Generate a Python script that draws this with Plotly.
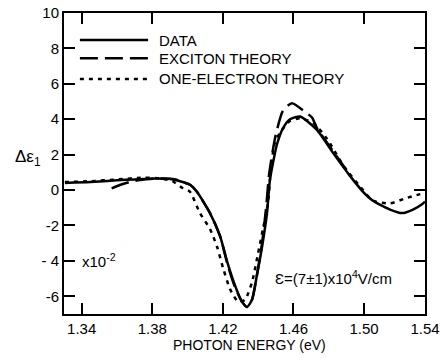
import plotly.graph_objects as go

# Data (photon energy in eV, delta epsilon_1 x10^-2)
data_E = [1.3305, 1.345, 1.36, 1.37, 1.382, 1.392, 1.3957, 1.4014, 1.4053, 1.4127,
          1.4184, 1.4229, 1.4269, 1.4308, 1.4337, 1.4365, 1.4393, 1.4422, 1.4450,
          1.4467, 1.4507, 1.4541, 1.458, 1.4637, 1.4733, 1.4824, 1.492, 1.4994,
          1.505, 1.5147, 1.5215, 1.5277, 1.5328, 1.5345]
data_y = [0.4, 0.45, 0.55, 0.6, 0.65, 0.6, 0.5, 0.3, -0.1, -1.3,
          -2.6, -4.2, -5.4, -6.3, -6.6, -6.2, -4.8, -3.2, -1.3,
          0.6, 2.6, 3.5, 4.0, 4.15, 3.4, 2.1, 0.8, -0.1,
          -0.6, -1.1, -1.3, -1.1, -0.8, -0.65]

exc_E = [1.357, 1.362, 1.367, 1.375, 1.385, 1.393, 1.3974, 1.4014, 1.4053, 1.4127,
         1.4184, 1.4229, 1.4269, 1.4308, 1.4337, 1.4365, 1.4393, 1.4422, 1.4445,
         1.4462, 1.4497, 1.4541, 1.4592, 1.4654, 1.4705, 1.4733, 1.4824, 1.492]
exc_y = [0.1, 0.3, 0.45, 0.6, 0.65, 0.6, 0.45, 0.3, -0.1, -1.3,
         -2.6, -4.3, -5.5, -6.3, -6.6, -6.2, -4.8, -3.0, -1.0,
         0.9, 3.0, 4.5, 4.9, 4.5, 4.1, 3.5, 2.2, 0.85]

one_E = [1.3305, 1.345, 1.36, 1.375, 1.385, 1.3915, 1.3974, 1.4014, 1.4070, 1.4127,
         1.4167, 1.4201, 1.4241, 1.4286, 1.4325, 1.4365, 1.4399, 1.4427, 1.4456,
         1.4470, 1.4495, 1.4535, 1.458, 1.4637, 1.4711, 1.479, 1.4881, 1.4994,
         1.505, 1.5147, 1.524, 1.5328]
one_y = [0.45, 0.5, 0.6, 0.7, 0.65, 0.5, 0.1, -0.1, -1.3, -2.2,
         -3.2, -4.4, -5.6, -6.3, -6.2, -5.2, -3.6, -2.2, -0.7,
         1.0, 2.7, 3.4, 3.9, 4.05, 3.8, 2.9, 1.4, 0.0,
         -0.6, -0.75, -0.45, -0.2]

x_tickvals = [1.34, 1.38, 1.42, 1.46, 1.50, 1.5345]
x_ticktext = ["1.34", "1.38", "1.42", "1.46", "1.50", "1.54"]
y_tickvals = [-6, -4, -2, 0, 2, 4, 6, 8, 10]
y_ticktext = ["-6", "- 4", "-2", "0", "2", "4", "6", "8", "10"]

legend_names = ["DATA", "EXCITON THEORY", "ONE-ELECTRON THEORY"]
dashes = ["solid", "18px,7px", "4px,5px"]

FONT = "Liberation Sans"
fig = go.Figure()
series = [(data_E, data_y), (exc_E, exc_y), (one_E, one_y)]
for (xs, ys), name, d in zip(series, legend_names, dashes):
    fig.add_trace(go.Scatter(x=xs, y=ys, mode="lines", name=name,
                             line=dict(color="black", width=2.5, dash=d,
                                       shape="spline", smoothing=0.6),
                             showlegend=False))

# manual legend keys
leg_y = [0.910, 0.850, 0.781]
for yy, name, d in zip(leg_y, legend_names, dashes):
    fig.add_shape(type="line", xref="paper", yref="paper", x0=0.044, x1=0.233,
                  y0=yy, y1=yy, line=dict(color="black", width=2.5, dash=d))
    fig.add_annotation(xref="paper", yref="paper", x=0.258, y=yy, text=name,
                       showarrow=False, xanchor="left", yanchor="middle",
                       font=dict(family=FONT, size=15, color="black"))

fig.add_annotation(xref="paper", yref="paper", x=-0.10, y=0.518,
                   text="Δε<sub>1</sub>", showarrow=False,
                   xanchor="center", yanchor="middle",
                   font=dict(family=FONT, size=17, color="black"))
fig.add_annotation(xref="paper", yref="paper", x=0.044, y=0.179,
                   text="x10<sup>-2</sup>", showarrow=False,
                   xanchor="left", yanchor="middle",
                   font=dict(family=FONT, size=15, color="black"))
fig.add_annotation(xref="paper", yref="paper", x=0.579, y=0.120,
                   text="Ɛ=(7±1)x10<sup>4</sup>V/cm", showarrow=False,
                   xanchor="left", yanchor="middle",
                   font=dict(family=FONT, size=15, color="black"))
fig.add_annotation(xref="paper", yref="paper", x=0.515, y=-0.103,
                   text="PHOTON ENERGY (eV)", showarrow=False,
                   xanchor="center", yanchor="middle",
                   font=dict(family=FONT, size=14, color="black"))

axis_common = dict(showgrid=False, zeroline=False, showline=True, linecolor="black",
                   linewidth=2, mirror="ticks", ticks="inside", ticklen=11,
                   tickwidth=2, tickcolor="black", automargin=False,
                   tickfont=dict(family=FONT, size=15, color="black"))
fig.update_xaxes(range=[1.330, 1.5345], tickvals=x_tickvals, ticktext=x_ticktext,
                 **axis_common)
fig.update_yaxes(range=[-7, 10], tickvals=y_tickvals, ticktext=y_ticktext,
                 **axis_common)

fig.update_layout(width=440, height=358, margin=dict(l=64, r=15, t=13, b=44),
                  paper_bgcolor="white", plot_bgcolor="white",
                  font=dict(family=FONT, color="black"))
fig.write_html("out.html", config={"displayModeBar": False},
               post_script="document.body.style.margin='0px';document.body.style.overflow='hidden';")
